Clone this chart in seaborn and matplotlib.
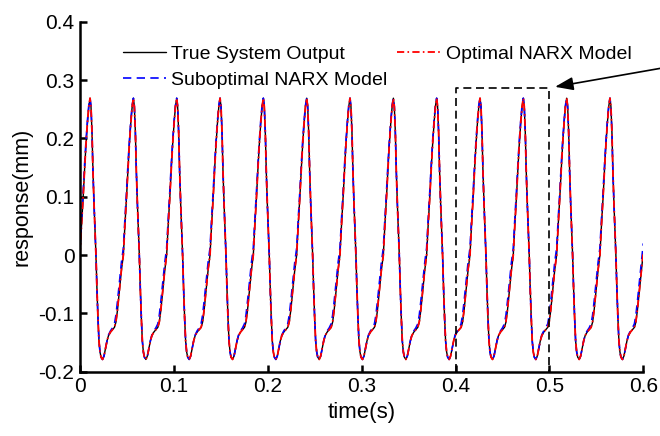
import numpy as np
import pandas as pd
import matplotlib
matplotlib.use("Agg")
import matplotlib.pyplot as plt
import seaborn as sns

# ---- data ----
# start time of each oscillation cycle (rising zero crossing), seconds
cycle_starts = [0.0000, 0.0462, 0.0923, 0.1385, 0.1846, 0.2308, 0.2769,
                0.3231, 0.3692, 0.4154, 0.4615, 0.5077, 0.5538]
end_time = 0.6
# time offsets inside one cycle, seconds
cycle_t = [0.0000, 0.0016, 0.0034, 0.0050, 0.0064, 0.0080, 0.0094, 0.0107,
           0.0117, 0.0128, 0.0138, 0.0149, 0.0160, 0.0170, 0.0181, 0.0192,
           0.0202, 0.0213, 0.0224, 0.0240, 0.0256, 0.0272, 0.0288, 0.0304,
           0.0325, 0.0346, 0.0367, 0.0383, 0.0399, 0.0421, 0.0442]
true_cycle = [0.000, 0.050, 0.100, 0.150, 0.190, 0.228, 0.255, 0.269,
              0.255, 0.210, 0.145, 0.090, 0.045, 0.000, -0.060, -0.110,
              -0.147, -0.166, -0.175, -0.179, -0.173, -0.160, -0.147, -0.138,
              -0.132, -0.128, -0.124, -0.115, -0.095, -0.060, -0.025]
optimal_cycle = [0.000, 0.050, 0.100, 0.150, 0.190, 0.228, 0.255, 0.269,
                 0.255, 0.210, 0.145, 0.090, 0.045, 0.000, -0.060, -0.110,
                 -0.147, -0.166, -0.175, -0.179, -0.173, -0.160, -0.147, -0.138,
                 -0.132, -0.128, -0.124, -0.114, -0.094, -0.059, -0.024]
subopt_cycle = [0.012, 0.060, 0.110, 0.158, 0.196, 0.232, 0.257, 0.269,
                0.255, 0.210, 0.145, 0.090, 0.045, 0.000, -0.060, -0.110,
                -0.147, -0.166, -0.175, -0.179, -0.173, -0.160, -0.147, -0.137,
                -0.130, -0.125, -0.118, -0.103, -0.080, -0.046, -0.012]
end_values = {"true": 0.005, "optimal": 0.005, "subopt": 0.020}

x_ticks = [0, 0.1, 0.2, 0.3, 0.4, 0.5, 0.6]
y_ticks = [-0.2, -0.1, 0, 0.1, 0.2, 0.3, 0.4]
x_ticklabels = ["0", "0.1", "0.2", "0.3", "0.4", "0.5", "0.6"]
y_ticklabels = ["-0.2", "-0.1", "0", "0.1", "0.2", "0.3", "0.4"]
zoom_window = (0.4, 0.5)
zoom_top = 0.286


def build(cycle_vals, end_val):
    t, v = [], []
    for s in cycle_starts:
        for dt, val in zip(cycle_t, cycle_vals):
            t.append(s + dt)
            v.append(val)
    t.append(end_time)
    v.append(end_val)
    return t, v


t_true, v_true = build(true_cycle, end_values["true"])
t_opt, v_opt = build(optimal_cycle, end_values["optimal"])
t_sub, v_sub = build(subopt_cycle, end_values["subopt"])
df_true = pd.DataFrame({"t": t_true, "v": v_true})
df_opt = pd.DataFrame({"t": t_opt, "v": v_opt})
df_sub = pd.DataFrame({"t": t_sub, "v": v_sub})

sns.set_style("ticks")
plt.rcParams["font.family"] = ["Liberation Sans", "DejaVu Sans"]
plt.rcParams.update({"text.color": "black", "axes.labelcolor": "black",
                     "xtick.color": "black", "ytick.color": "black",
                     "axes.edgecolor": "black"})

fig = plt.figure(figsize=(6.6, 4.36), dpi=100)
ax = fig.add_axes([0.1212, 0.1475, 0.8535, 0.8025])

sns.lineplot(data=df_true, x="t", y="v", ax=ax, color="black", lw=1.0,
             estimator=None, sort=False, label="True System Output")
sns.lineplot(data=df_sub, x="t", y="v", ax=ax, color="#0000ff", lw=1.2,
             estimator=None, sort=False, label="Suboptimal NARX Model",
             linestyle=(0, (5, 3.2)))
sns.lineplot(data=df_opt, x="t", y="v", ax=ax, color="#ff0000", lw=1.3,
             estimator=None, sort=False, label="Optimal NARX Model",
             linestyle=(0, (4.0, 1.8, 0.9, 1.8)))

# zoom box
ax.plot([zoom_window[0], zoom_window[0], zoom_window[1], zoom_window[1]],
        [-0.2, zoom_top, zoom_top, -0.2], color="black", lw=1.2,
        linestyle=(0, (4.8, 2.8)), clip_on=False, zorder=5)
ax.annotate("", xy=(0.506, 0.2885), xytext=(0.66, 0.332),
            arrowprops=dict(arrowstyle="-|>,head_length=0.55,head_width=0.2",
                            color="black", lw=1.2, mutation_scale=20,
                            shrinkA=0, shrinkB=0),
            annotation_clip=False)

ax.set_xlim(0, 0.6)
ax.set_ylim(-0.2, 0.4)
ax.set_xticks(x_ticks)
ax.set_xticklabels(x_ticklabels)
ax.set_yticks(y_ticks)
ax.set_yticklabels(y_ticklabels)
ax.set_xlabel("time(s)", fontsize=16, labelpad=4, color="black")
ax.set_ylabel("response(mm)", fontsize=15.5, labelpad=4, color="black")
ax.tick_params(direction="in", length=5, width=1.8, labelsize=15, pad=4,
               colors="black")
for s in ["top", "right"]:
    ax.spines[s].set_visible(False)
for s in ["left", "bottom"]:
    ax.spines[s].set_linewidth(1.8)
    ax.spines[s].set_color("black")

h, l = ax.get_legend_handles_labels()
leg = ax.legend(h, l, ncol=2, frameon=False,
                loc="upper left", bbox_to_anchor=(0.076, 0.933), borderaxespad=0,
                borderpad=0, fontsize=14, handlelength=2.2, handletextpad=0.3,
                columnspacing=0.5, labelspacing=0.45)
for txt in leg.get_texts():
    txt.set_color("black")

fig.savefig("out.png", dpi=100)
